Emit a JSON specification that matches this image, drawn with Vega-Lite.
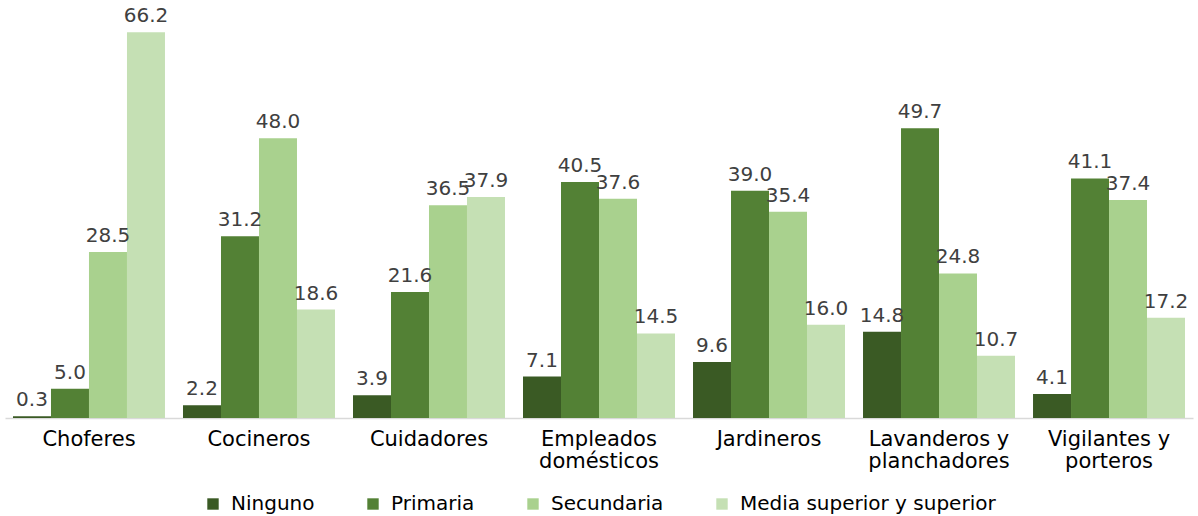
{
  "$schema": "https://vega.github.io/schema/vega-lite/v6.json",
  "autosize": {"type": "none"},
  "padding": {"left": 5, "top": 10, "right": 5, "bottom": 98},
  "width": 1188,
  "height": 408,
  "background": "white",
  "config": {"view": {"stroke": null}, "font": "DejaVu Sans"},
  "data": {"values": [
    {"cat": "Choferes", "serie": "Ninguno", "v": 0.3},
    {"cat": "Choferes", "serie": "Primaria", "v": 5.0},
    {"cat": "Choferes", "serie": "Secundaria", "v": 28.5},
    {"cat": "Choferes", "serie": "Media superior y superior", "v": 66.2},
    {"cat": "Cocineros", "serie": "Ninguno", "v": 2.2},
    {"cat": "Cocineros", "serie": "Primaria", "v": 31.2},
    {"cat": "Cocineros", "serie": "Secundaria", "v": 48.0},
    {"cat": "Cocineros", "serie": "Media superior y superior", "v": 18.6},
    {"cat": "Cuidadores", "serie": "Ninguno", "v": 3.9},
    {"cat": "Cuidadores", "serie": "Primaria", "v": 21.6},
    {"cat": "Cuidadores", "serie": "Secundaria", "v": 36.5},
    {"cat": "Cuidadores", "serie": "Media superior y superior", "v": 37.9},
    {"cat": "Empleados domésticos", "serie": "Ninguno", "v": 7.1},
    {"cat": "Empleados domésticos", "serie": "Primaria", "v": 40.5},
    {"cat": "Empleados domésticos", "serie": "Secundaria", "v": 37.6},
    {"cat": "Empleados domésticos", "serie": "Media superior y superior", "v": 14.5},
    {"cat": "Jardineros", "serie": "Ninguno", "v": 9.6},
    {"cat": "Jardineros", "serie": "Primaria", "v": 39.0},
    {"cat": "Jardineros", "serie": "Secundaria", "v": 35.4},
    {"cat": "Jardineros", "serie": "Media superior y superior", "v": 16.0},
    {"cat": "Lavanderos y planchadores", "serie": "Ninguno", "v": 14.8},
    {"cat": "Lavanderos y planchadores", "serie": "Primaria", "v": 49.7},
    {"cat": "Lavanderos y planchadores", "serie": "Secundaria", "v": 24.8},
    {"cat": "Lavanderos y planchadores", "serie": "Media superior y superior", "v": 10.7},
    {"cat": "Vigilantes y porteros", "serie": "Ninguno", "v": 4.1},
    {"cat": "Vigilantes y porteros", "serie": "Primaria", "v": 41.1},
    {"cat": "Vigilantes y porteros", "serie": "Secundaria", "v": 37.4},
    {"cat": "Vigilantes y porteros", "serie": "Media superior y superior", "v": 17.2}
  ]},
  "encoding": {
    "x": {
      "field": "cat", "type": "nominal", "sort": null, "title": null,
      "scale": {"paddingInner": 0.106, "paddingOuter": 0.047},
      "axis": {
        "labelAngle": 0, "labelFontSize": 21, "labelColor": "#000000",
        "labelFont": "DejaVu Sans", "labelPadding": 10, "labelLineHeight": 22,
        "ticks": false, "domainColor": "#d9d9d9", "domainWidth": 1.5,
        "labelExpr": "datum.label == 'Empleados domésticos' ? ['Empleados', 'domésticos'] : datum.label == 'Lavanderos y planchadores' ? ['Lavanderos y', 'planchadores'] : datum.label == 'Vigilantes y porteros' ? ['Vigilantes y', 'porteros'] : datum.label"
      }
    },
    "xOffset": {
      "field": "serie", "type": "nominal",
      "sort": ["Ninguno", "Primaria", "Secundaria", "Media superior y superior"],
      "scale": {"paddingInner": 0, "paddingOuter": 0}
    },
    "y": {
      "field": "v", "type": "quantitative",
      "scale": {"domain": [0, 70], "nice": false},
      "axis": null
    }
  },
  "layer": [
    {
      "mark": {"type": "bar"},
      "encoding": {
        "color": {
          "field": "serie", "type": "nominal",
          "sort": ["Ninguno", "Primaria", "Secundaria", "Media superior y superior"],
          "scale": {
            "domain": ["Ninguno", "Primaria", "Secundaria", "Media superior y superior"],
            "range": ["#3a5a24", "#538135", "#a9d18e", "#c5e0b4"]
          },
          "legend": {
            "title": null, "orient": "none", "direction": "horizontal",
            "legendX": 198, "legendY": 484,
            "symbolType": "square", "symbolSize": 130, "symbolStrokeWidth": 0,
            "labelFontSize": 20, "labelColor": "#000000", "labelFont": "DejaVu Sans",
            "labelLimit": 500,
            "columnPadding": 48, "labelOffset": 8
          }
        }
      }
    },
    {
      "mark": {"type": "text", "baseline": "alphabetic", "dy": -10, "fontSize": 20, "color": "#404040", "font": "DejaVu Sans"},
      "encoding": {
        "text": {"field": "v", "type": "quantitative", "format": ".1f"}
      }
    }
  ]
}
